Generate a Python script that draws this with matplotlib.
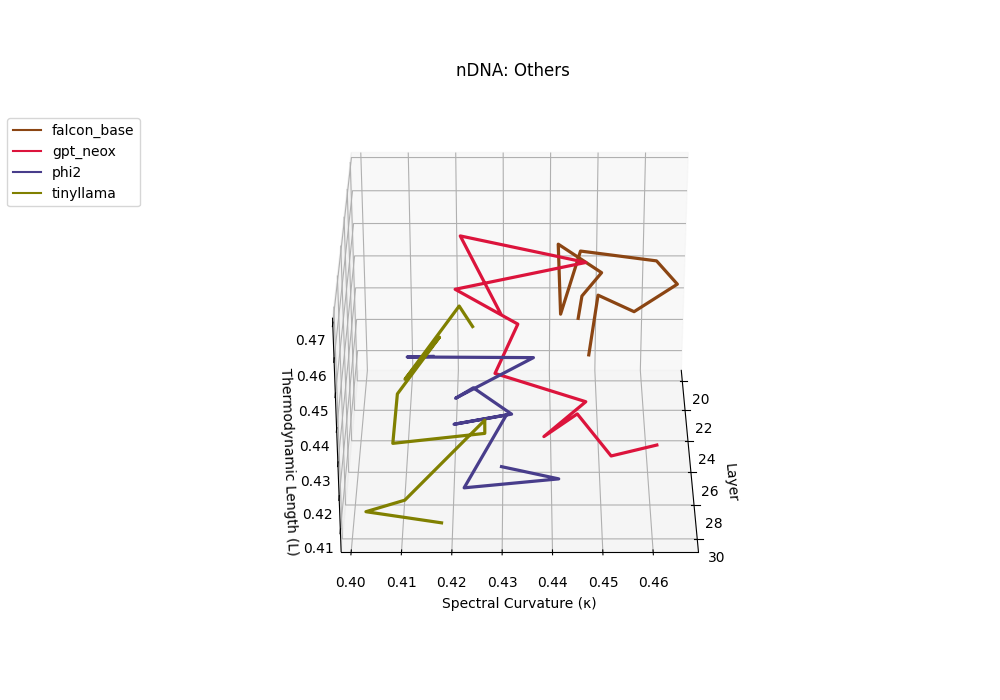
import matplotlib
matplotlib.use("Agg")
import matplotlib.pyplot as plt
from matplotlib.lines import Line2D

layer = [20, 21, 22, 23, 24, 25, 26, 27, 28, 29, 30]

falcon_base_k = [0.4461, 0.4467, 0.4506, 0.4414, 0.4419, 0.4457, 0.4607, 0.4646, 0.4559, 0.4486, 0.4468]
falcon_base_l = [0.4236, 0.4350, 0.4465, 0.4593, 0.4427, 0.4657, 0.4671, 0.4647, 0.4612, 0.4703, 0.4579]
gpt_neox_k = [0.4293, 0.4210, 0.4473, 0.4201, 0.4331, 0.4284, 0.4470, 0.4384, 0.4450, 0.4517, 0.4604]
gpt_neox_l = [0.4253, 0.4534, 0.4496, 0.4458, 0.4397, 0.4293, 0.4254, 0.4196, 0.4313, 0.4236, 0.4318]
phi2_k = [0.4146, 0.4093, 0.4364, 0.4199, 0.4238, 0.4318, 0.4200, 0.4308, 0.4222, 0.4413, 0.4299]
phi2_l = [0.4115, 0.4159, 0.4203, 0.4122, 0.4202, 0.4168, 0.4185, 0.4262, 0.4089, 0.4167, 0.4254]
tinyllama_k = [0.4233, 0.4206, 0.4090, 0.4167, 0.4079, 0.4070, 0.4263, 0.4264, 0.4101, 0.4025, 0.4179]
tinyllama_l = [0.4210, 0.4319, 0.4135, 0.4312, 0.4183, 0.4077, 0.4157, 0.4246, 0.4051, 0.4067, 0.4085]

names = ["falcon_base", "gpt_neox", "phi2", "tinyllama"]
colors = ["#8B4513", "#DC143C", "#483D8B", "#808000"]
layer_ticks = [20, 22, 24, 26, 28, 30]
kappa_ticks = [0.40, 0.41, 0.42, 0.43, 0.44, 0.45, 0.46]
length_ticks = [0.41, 0.42, 0.43, 0.44, 0.45, 0.46, 0.47]

fig = plt.figure(figsize=(10, 7), dpi=100)
ax = fig.add_subplot(111, projection="3d")
series = [(falcon_base_k, falcon_base_l), (gpt_neox_k, gpt_neox_l),
          (phi2_k, phi2_l), (tinyllama_k, tinyllama_l)]
for (k, l), c in zip(series, colors):
    ax.plot(layer, k, l, color=c, lw=2.3)
ax.set_xlim(19.27, 30.73)
ax.set_ylim(0.398, 0.469)
ax.set_zlim(0.4036, 0.4715)
ax.view_init(elev=30, azim=0)
ax.set_xticks(layer_ticks)
ax.set_yticks(kappa_ticks)
ax.set_zticks(length_ticks)
ax.set_xlabel("Layer")
ax.set_ylabel("Spectral Curvature (κ)")
ax.set_zlabel("Thermodynamic Length (L)")
ax.set_title("nDNA: Others")
handles = [Line2D([], [], color=c, lw=1.5) for c in colors]
fig.legend(handles, names, loc="upper left", bbox_to_anchor=(0.0005, 0.841))
fig.savefig("out.png", dpi=100)
